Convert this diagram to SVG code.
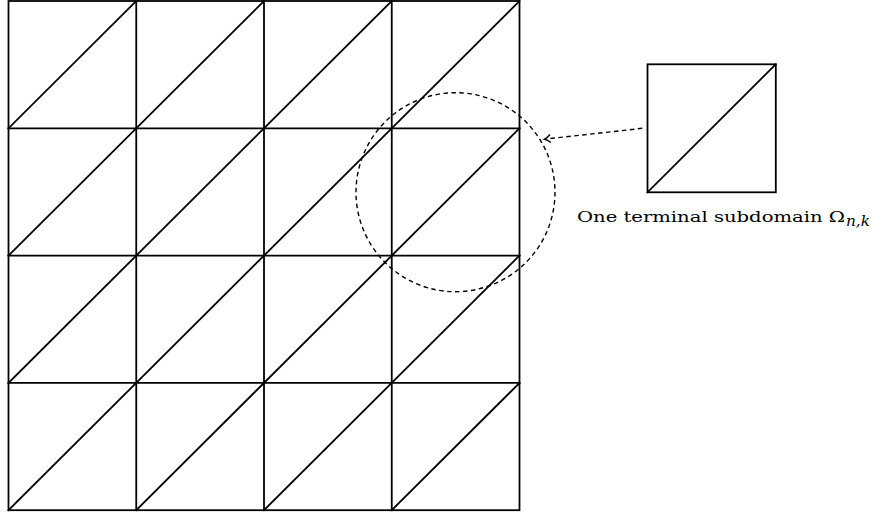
<svg xmlns="http://www.w3.org/2000/svg" width="873" height="515" viewBox="0 0 873 515">
<style>
.g{stroke:#000;stroke-width:1.8;fill:none;stroke-linecap:square}
.d{stroke:#000;stroke-width:1.4;fill:none;stroke-dasharray:4.5 3.5}
.t{font-family:"DejaVu Serif","Liberation Serif",serif;font-size:15.5px;fill:#000}
</style>
<defs>
<marker id="ah" markerWidth="12" markerHeight="12" refX="9" refY="6" orient="auto" markerUnits="userSpaceOnUse">
<path d="M3,2 Q6,5 9,6 Q6,7 3,10" fill="none" stroke="#000" stroke-width="1.4"/>
</marker>
</defs>
<rect width="873" height="515" fill="#fff"/>
<g id="mesh" class="g">
<rect x="8.5" y="1" width="511" height="509.2"/>
<line x1="136.25" y1="1" x2="136.25" y2="510.2"/>
<line x1="264" y1="1" x2="264" y2="510.2"/>
<line x1="391.75" y1="1" x2="391.75" y2="510.2"/>
<line x1="8.5" y1="128.3" x2="519.5" y2="128.3"/>
<line x1="8.5" y1="255.6" x2="519.5" y2="255.6"/>
<line x1="8.5" y1="382.9" x2="519.5" y2="382.9"/>
<line x1="8.5" y1="128.3" x2="136.25" y2="1"/>
<line x1="8.5" y1="255.6" x2="264" y2="1"/>
<line x1="8.5" y1="382.9" x2="391.75" y2="1"/>
<line x1="8.5" y1="510.2" x2="519.5" y2="1"/>
<line x1="136.25" y1="510.2" x2="519.5" y2="128.3"/>
<line x1="264" y1="510.2" x2="519.5" y2="255.6"/>
<line x1="391.75" y1="510.2" x2="519.5" y2="382.9"/>
</g>
<g id="highlight">
<circle class="d" cx="455.5" cy="192.2" r="99.5"/>
</g>
<g id="subdomain" class="g">
<rect x="647.5" y="64.3" width="128.3" height="128"/>
<line x1="647.5" y1="192.3" x2="775.8" y2="64.3"/>
</g>
<g id="connectors">
<line class="d" x1="642.3" y1="128.3" x2="544.5" y2="139.2" marker-end="url(#ah)"/>
</g>
<g id="label">
<text class="t" x="577" y="222" textLength="268" lengthAdjust="spacingAndGlyphs">One terminal subdomain Ω</text>
<text class="t" x="846" y="225.5" font-style="italic" font-size="11" textLength="24" lengthAdjust="spacingAndGlyphs">n,k</text>
</g>
</svg>
